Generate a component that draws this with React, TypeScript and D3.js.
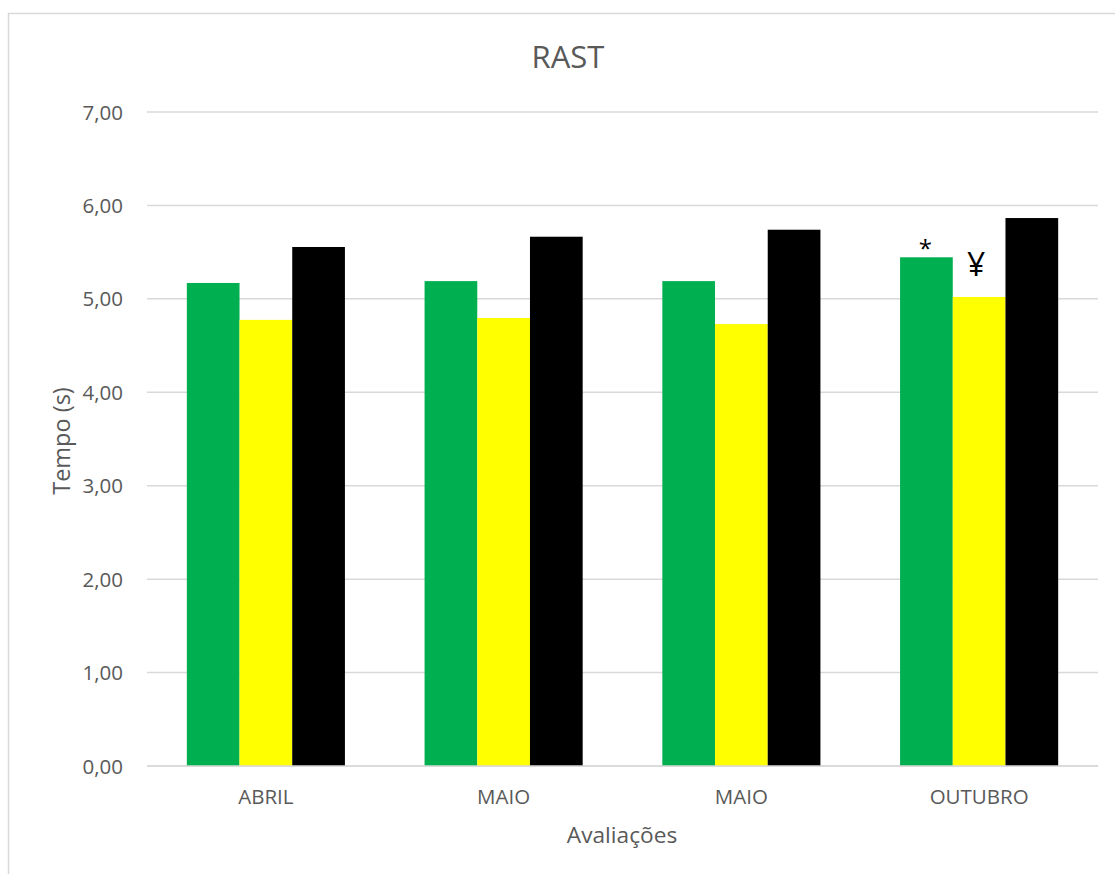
import React from "react";
import * as d3 from "d3";

const categories = ["ABRIL", "MAIO", "MAIO", "OUTUBRO"];
const seriesNames = ["Grupo 1", "Grupo 2", "Grupo 3"];
const seriesColors = ["#00b050", "#ffff00", "#000000"];
const green = [5.17, 5.19, 5.19, 5.445];
const yellow = [4.775, 4.795, 4.73, 5.02];
const black = [5.555, 5.665, 5.74, 5.865];
const yTicks = [0, 1, 2, 3, 4, 5, 6, 7];
const title = "RAST";
const xTitle = "Avaliações";
const yTitle = "Tempo (s)";
// annotations: [category index, series index, symbol]
const annotations: [number, number, string][] = [
  [3, 0, "*"],
  [3, 1, "¥"],
];

export default function App() {
  const W = 1115, H = 874;
  const left = 147, right = 1098, top = 112, bottom = 766;
  const font = "'Open Sans', 'Noto Sans', sans-serif";
  const textColor = "#595959";
  const values = [green, yellow, black];
  const idx = categories.map((_, i) => String(i));
  const x = d3.scaleBand<string>().domain(idx).range([left, right]).paddingInner(0.335).paddingOuter(0.1675);
  const xs = d3.scaleBand<string>().domain(seriesNames).range([0, x.bandwidth()]).padding(0);
  const y = d3.scaleLinear().domain([0, 7]).range([bottom, top]);
  const fmt = (v: number) => v.toFixed(2).replace(".", ",");

  return (
    <svg width={W} height={H} style={{ position: "absolute", left: 0, top: 0 }} fontFamily={font}>
      <rect x={0} y={0} width={W} height={H} fill="#fff" />
      <rect x={8.5} y={13.5} width={W + 20} height={H + 20} fill="#fff" stroke="#d9d9d9" strokeWidth={1.5} />
      <text x={568} y={68} textAnchor="middle" fontSize={31} fill={textColor}>{title}</text>
      {yTicks.map((t) => (
        <g key={t}>
          <line x1={left} x2={right} y1={y(t)} y2={y(t)} stroke="#d9d9d9" strokeWidth={1.5} />
          <text x={123} y={y(t) + 7.5} textAnchor="end" fontSize={20.5} fill={textColor}>{fmt(t)}</text>
        </g>
      ))}
      {categories.map((c, ci) => (
        <g key={ci} transform={`translate(${x(String(ci))},0)`}>
          {seriesNames.map((s, si) => (
            <rect key={s} x={xs(s)} y={y(values[si][ci])} width={xs.bandwidth()} height={bottom - y(values[si][ci])} fill={seriesColors[si]} />
          ))}
        </g>
      ))}
      <line x1={left} x2={right} y1={bottom} y2={bottom} stroke="#d9d9d9" strokeWidth={1.5} />
      {categories.map((c, ci) => (
        <text key={ci} x={(x(String(ci)) as number) + x.bandwidth() / 2} y={804} textAnchor="middle" fontSize={20.5} fill={textColor}>{c}</text>
      ))}
      {annotations.map(([ci, si, sym], k) => {
        const cx = (x(String(ci)) as number) + (xs(seriesNames[si]) as number) + xs.bandwidth() / 2;
        const top0 = y(values[si][ci]);
        return sym === "*" ? (
          <text key={k} x={cx - 1} y={top0 + 0} textAnchor="middle" fontSize={24} fill="#000">{sym}</text>
        ) : (
          <text key={k} x={cx - 3} y={top0 - 21} textAnchor="middle" fontSize={32} fill="#000">{sym}</text>
        );
      })}
      <text x={622} y={843} textAnchor="middle" fontSize={22.7} fill={textColor}>{xTitle}</text>
      <text transform={`translate(70,${(top + bottom) / 2 + 2}) rotate(-90)`} textAnchor="middle" fontSize={23.5} fill={textColor}>{yTitle}</text>
    </svg>
  );
}
